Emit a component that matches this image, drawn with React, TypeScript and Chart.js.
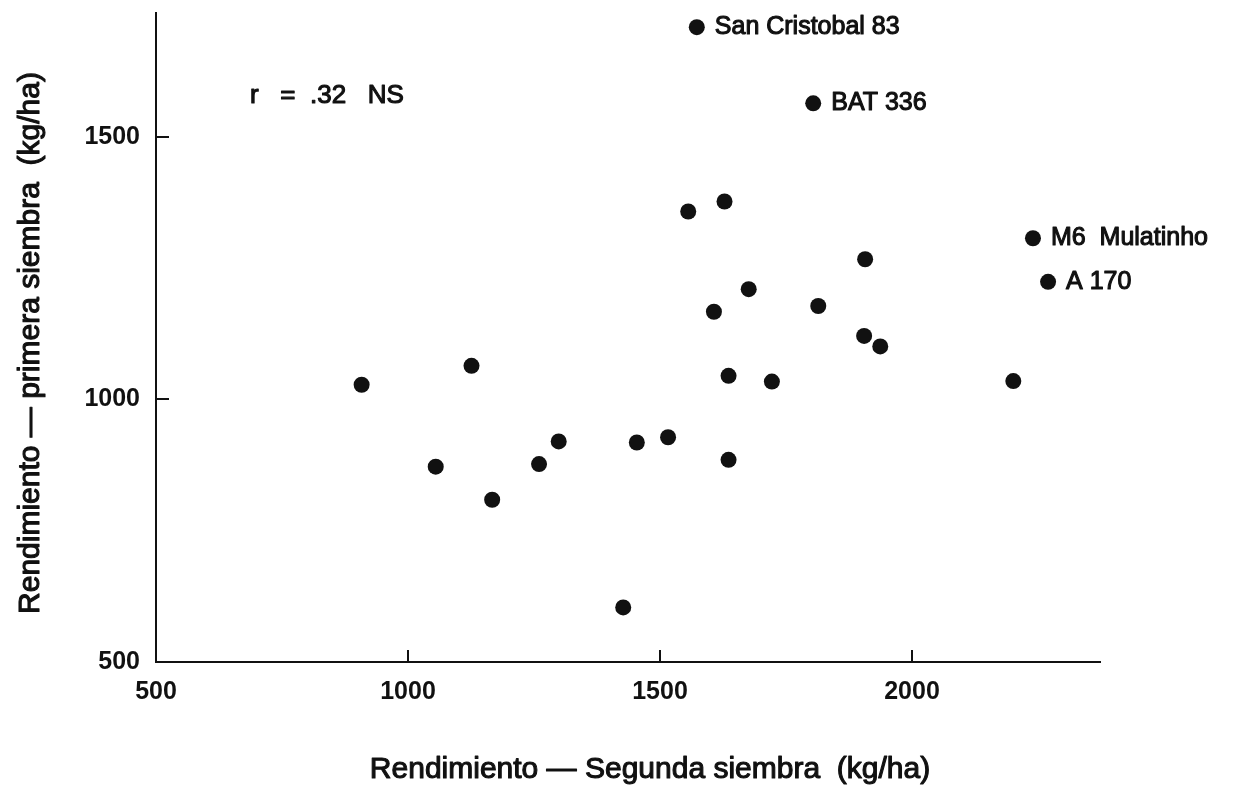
import React, { useEffect, useRef } from "react";
import { Chart, registerables } from "chart.js";

Chart.register(...registerables);

// Rendimiento — Segunda siembra (kg/ha)  (x)
const segundaSiembra = [
  908, 1126, 1055, 1299, 1260, 1167, 1454, 1516, 1427, 1556, 1628, 1907, 1676,
  1607, 1814, 1905, 1937, 1636, 1722, 1636, 2201, 1573, 1804, 2240, 2270,
];
// Rendimiento — primera siembra (kg/ha)  (y)
const primeraSiembra = [
  1028, 1064, 872, 920, 877, 809, 918, 928, 604, 1358, 1377, 1267, 1210,
  1167, 1178, 1121, 1101, 1045, 1034, 885, 1035, 1709, 1564, 1307, 1224,
];
const pointLabels = [
  "", "", "", "", "", "", "", "", "", "", "", "", "",
  "", "", "", "", "", "", "", "", "San Cristobal 83", "BAT 336", "M6  Mulatinho", "A 170",
];
const xTickValues = [500, 1000, 1500, 2000];
const yTickValues = [500, 1000, 1500];
const xRange = [500, 2373];
const yRange = [500, 1736];
const xTitle = "Rendimiento — Segunda siembra  (kg/ha)";
const yTitle = "Rendimiento — primera siembra  (kg/ha)";
const statText = "r   =  .32   NS";

const INK = "#111111";
const FONT = 'Arial, "Liberation Sans", sans-serif';

const overlayPlugin = {
  id: "overlay",
  afterDraw(chart: any) {
    const { ctx, chartArea, scales } = chart;
    const xs = scales.x;
    const ys = scales.y;
    ctx.save();
    ctx.strokeStyle = INK;
    ctx.lineWidth = 2;
    xTickValues.forEach((v) => {
      if (v === xRange[0]) return;
      const px = Math.round(xs.getPixelForValue(v));
      ctx.beginPath();
      ctx.moveTo(px, chartArea.bottom);
      ctx.lineTo(px, chartArea.bottom - 12);
      ctx.stroke();
    });
    yTickValues.forEach((v) => {
      if (v === yRange[0]) return;
      const py = Math.round(ys.getPixelForValue(v));
      ctx.beginPath();
      ctx.moveTo(chartArea.left, py);
      ctx.lineTo(chartArea.left + 13, py);
      ctx.stroke();
    });

    ctx.fillStyle = INK;
    ctx.strokeStyle = INK;
    ctx.lineWidth = 1.1;
    ctx.lineJoin = "round";
    ctx.textBaseline = "middle";
    ctx.textAlign = "left";
    ctx.font = `25px ${FONT}`;
    const meta = chart.getDatasetMeta(0);
    meta.data.forEach((el: any, i: number) => {
      const t = pointLabels[i];
      if (!t) return;
      ctx.fillText(t, el.x + 18, el.y);
      ctx.strokeText(t, el.x + 18, el.y);
    });

    ctx.font = `26px ${FONT}`;
    ctx.fillText(statText, chartArea.left + 94, chartArea.top + 83);
    ctx.strokeText(statText, chartArea.left + 94, chartArea.top + 83);

    ctx.font = `30px ${FONT}`;
    ctx.textAlign = "center";
    ctx.fillText(xTitle, 650, 770);
    ctx.strokeText(xTitle, 650, 770);

    ctx.translate(31, 343);
    ctx.rotate(-Math.PI / 2);
    ctx.fillText(yTitle, 0, 0);
    ctx.strokeText(yTitle, 0, 0);
    ctx.restore();
  },
};

export default function App() {
  const canvasRef = useRef<HTMLCanvasElement | null>(null);

  useEffect(() => {
    const canvas = canvasRef.current;
    if (!canvas) return;
    const data = segundaSiembra.map((x, i) => ({ x, y: primeraSiembra[i] }));
    const chart = new Chart(canvas, {
      type: "scatter",
      data: {
        datasets: [
          {
            data,
            backgroundColor: INK,
            borderWidth: 0,
            pointRadius: 8,
            pointHoverRadius: 8,
          },
        ],
      },
      options: {
        responsive: false,
        animation: false,
        devicePixelRatio: 1,
        layout: { padding: { top: 13, right: 156, bottom: 0, left: 0 } },
        plugins: {
          legend: { display: false },
          tooltip: { enabled: false },
          title: { display: false },
        },
        scales: {
          x: {
            type: "linear",
            min: xRange[0],
            max: xRange[1],
            afterBuildTicks: (s: any) => {
              s.ticks = xTickValues.map((v) => ({ value: v }));
            },
            afterFit: (s: any) => {
              s.height = 127;
              s.paddingLeft = 0;
              s.paddingRight = 0;
            },
            grid: { display: false, drawTicks: false },
            border: { display: true, color: INK, width: 2 },
            ticks: {
              color: INK,
              font: { family: FONT, size: 25, weight: "bold" },
              padding: 15,
              maxRotation: 0,
              autoSkip: false,
              callback: (v: any) => String(v),
            },
          },
          y: {
            type: "linear",
            min: yRange[0],
            max: yRange[1],
            afterBuildTicks: (s: any) => {
              s.ticks = yTickValues.map((v) => ({ value: v }));
            },
            afterFit: (s: any) => {
              s.width = 156;
              s.paddingTop = 0;
              s.paddingBottom = 0;
            },
            grid: { display: false, drawTicks: false },
            border: { display: true, color: INK, width: 2 },
            ticks: {
              color: INK,
              font: { family: FONT, size: 25, weight: "bold" },
              padding: 16,
              autoSkip: false,
              callback: (v: any) => String(v),
            },
          },
        },
      },
      plugins: [overlayPlugin],
    });
    return () => chart.destroy();
  }, []);

  return (
    <div
      style={{
        position: "absolute",
        left: 0,
        top: 0,
        width: 1256,
        height: 789,
        background: "#ffffff",
      }}
    >
      <canvas
        ref={canvasRef}
        width={1256}
        height={789}
        style={{ display: "block", width: 1256, height: 789 }}
      />
    </div>
  );
}
